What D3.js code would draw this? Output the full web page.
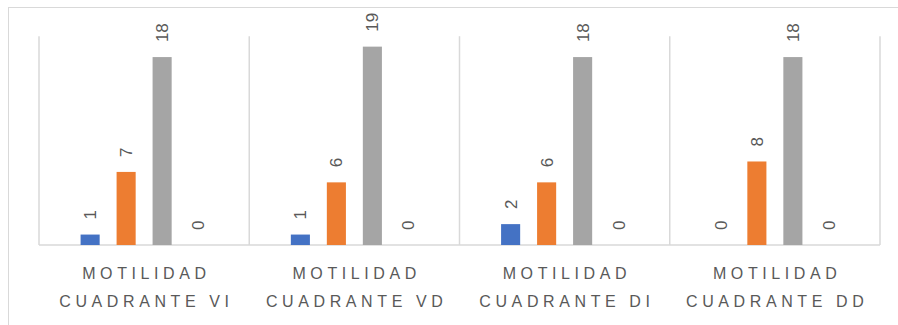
<!DOCTYPE html>
<html>
<head>
<meta charset="utf-8">
<script src="https://cdn.jsdelivr.net/npm/d3@7"></script>
<style>
  html, body { margin: 0; padding: 0; background: #fff; }
  svg { display: block; }
</style>
</head>
<body>
<svg id="chart" width="898" height="325"></svg>
<script>
const categories = [
  ["MOTILIDAD", "CUADRANTE VI"],
  ["MOTILIDAD", "CUADRANTE VD"],
  ["MOTILIDAD", "CUADRANTE DI"],
  ["MOTILIDAD", "CUADRANTE DD"]
];
const seriesNames = ["Serie 1", "Serie 2", "Serie 3", "Serie 4"];
const serie1 = [1, 1, 2, 0];
const serie2 = [7, 6, 6, 8];
const serie3 = [18, 19, 18, 18];
const serie4 = [0, 0, 0, 0];
const seriesValues = [serie1, serie2, serie3, serie4];
const colors = ["#4472C4", "#ED7D31", "#A5A5A5", "#FFC000"];

const svg = d3.select("#chart");
const W = 898, H = 325;
const margin = { left: 39, right: 18, top: 36, bottom: 80 };
const plotBottom = 245;

// outer border
svg.append("rect")
  .attr("x", 8.5).attr("y", 7.5)
  .attr("width", W + 10).attr("height", H + 10)
  .attr("fill", "none").attr("stroke", "#d9d9d9").attr("stroke-width", 1);

const catKeys = categories.map((d, i) => i);
const x = d3.scaleBand().domain(catKeys).range([39, 880]).padding(0);
const xs = d3.scaleBand().domain(seriesNames)
  .range([0, x.bandwidth()])
  .paddingInner(0.47);
// set outer padding so group spans 144px centered
const groupW = 144;
const xsIn = d3.scaleBand().domain(seriesNames)
  .range([(x.bandwidth() - groupW) / 2, (x.bandwidth() + groupW) / 2])
  .paddingInner(0.47).paddingOuter(0.235);

const y = d3.scaleLinear().domain([0, 20]).range([plotBottom, 36.2]);

// vertical category separators
const bounds = catKeys.map(k => x(k)).concat([x(catKeys[catKeys.length - 1]) + x.bandwidth()]);
svg.append("g").selectAll("line").data(bounds).join("line")
  .attr("x1", d => d).attr("x2", d => d)
  .attr("y1", y(20)).attr("y2", plotBottom)
  .attr("stroke", "#d9d9d9").attr("stroke-width", 1.5);

// baseline
svg.append("line")
  .attr("x1", 39).attr("x2", 880)
  .attr("y1", plotBottom).attr("y2", plotBottom)
  .attr("stroke", "#d9d9d9").attr("stroke-width", 1.5);

const rows = [];
catKeys.forEach(ci => {
  seriesNames.forEach((s, si) => {
    rows.push({ ci, s, si, v: seriesValues[si][ci] });
  });
});

const g = svg.append("g");
g.selectAll("rect.bar").data(rows).join("rect")
  .attr("class", "bar")
  .attr("x", d => x(d.ci) + xsIn(d.s))
  .attr("width", xsIn.bandwidth())
  .attr("y", d => y(d.v))
  .attr("height", d => plotBottom - y(d.v))
  .attr("fill", d => colors[d.si]);

g.selectAll("text.lbl").data(rows).join("text")
  .attr("class", "lbl")
  .attr("transform", d => {
    const cx = x(d.ci) + xsIn(d.s) + xsIn.bandwidth() / 2 + 6;
    const cy = y(d.v) - 15;
    return `translate(${cx},${cy}) rotate(-90)`;
  })
  .attr("text-anchor", "start")
  .attr("font-family", "'Liberation Sans', Arial, sans-serif")
  .attr("font-size", 17)
  .attr("fill", "#595959")
  .text(d => d.v);

// category labels
const ls = 4.6;
const cat = svg.append("g");
categories.forEach((lines, ci) => {
  const cx = x(ci) + x.bandwidth() / 2 + ls / 2;
  lines.forEach((t, li) => {
    cat.append("text")
      .attr("x", cx)
      .attr("y", 279 + li * 28)
      .attr("text-anchor", "middle")
      .attr("font-family", "'Liberation Sans', Arial, sans-serif")
      .attr("font-size", 16)
      .attr("letter-spacing", ls)
      .attr("fill", "#595959")
      .text(t);
  });
});
</script>
</body>
</html>
